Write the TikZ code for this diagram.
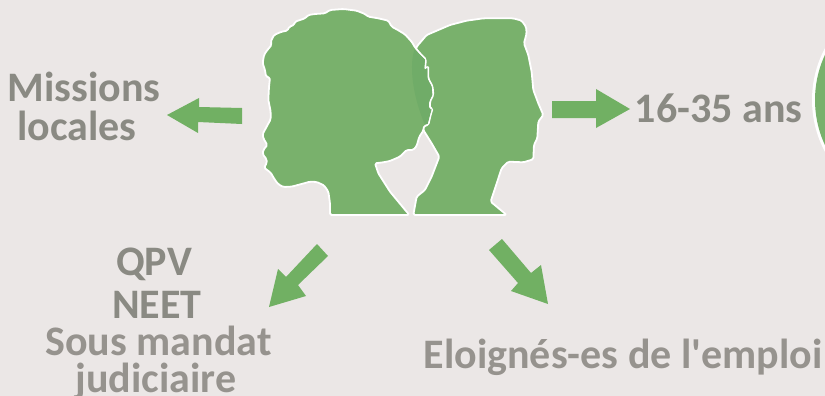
\documentclass[tikz,border=0pt]{standalone}
\usepackage{fontspec}
\setmainfont{Carlito}
\definecolor{bgc}{HTML}{EBE7E6}
\definecolor{headg}{HTML}{79B16C}
\definecolor{overg}{HTML}{70AC68}
\definecolor{arrowg}{HTML}{71B063}
\definecolor{txtg}{HTML}{8A8A83}
\definecolor{txtl}{HTML}{96938E}
\tikzset{
  lab/.style={text=txtg,font=\bfseries\fontsize{42}{44}\selectfont,anchor=base,inner sep=0pt},
  labl/.style={lab,text=txtl},
  head/.style={fill=headg,draw=white,line width=1.8pt,line join=round,rounded corners=1.5pt},
  blockarrow/.style={fill=arrowg,draw=none}
}
\begin{document}
\begin{tikzpicture}[x=1pt,y=-1pt]
\useasboundingbox (0,0) rectangle (825,396);
\clip (0,0) rectangle (825,396);
\fill[bgc] (0,0) rectangle (825,396);
\begin{scope}[shift={(250,0)},x=0.3333pt,y=-0.3333pt]
\draw[head] (490,645) -- (500,590) -- (510,582) -- (525,570) -- (545,530) -- (568,470) -- (545,430) -- (520,390) -- (500,330) -- (487,260) -- (485,200) -- (500,140) -- (530,105) -- (600,75) -- (650,62) -- (700,55) -- (790,55) -- (815,62) -- (828,80) -- (830,100) -- (822,130) -- (835,165) -- (845,215) -- (850,270) -- (865,310) -- (880,345) -- (865,365) -- (862,415) -- (852,435) -- (850,478) -- (820,487) -- (775,485) -- (755,505) -- (722,605) -- (770,645) -- cycle;
\draw[head] (240,645) -- (240,610) -- (235,575) -- (222,556) -- (200,546) -- (180,545) -- (155,552) -- (125,560) -- (100,561) -- (85,553) -- (75,540) -- (62,518) -- (42,503) -- (50,490) -- (50,478) -- (38,463) -- (40,450) -- (52,435) -- (40,415) -- (38,402) -- (50,380) -- (62,358) -- (62,335) -- (55,300) -- (57,260) -- (60,233) -- (48,230) -- (45,210) -- (38,190) -- (42,165) -- (52,150) -- (65,135) -- (62,125) -- (72,105) -- (95,95) -- (112,92) -- (118,80) -- (132,75) -- (135,65) -- (165,55) -- (175,45) -- (195,42) -- (225,40) -- (240,30) -- (280,27) -- (320,32) -- (345,42) -- (355,50) -- (385,55) -- (415,62) -- (425,80) -- (440,88) -- (465,103) -- (485,125) -- (495,142) -- (510,160) -- (528,178) -- (525,208) -- (535,198) -- (535,235) -- (548,260) -- (550,285) -- (540,305) -- (540,325) -- (548,325) -- (542,345) -- (535,375) -- (522,378) -- (520,392) -- (508,410) -- (500,438) -- (490,450) -- (470,450) -- (450,470) -- (420,483) -- (400,487) -- (375,490) -- (385,520) -- (420,575) -- (478,645) -- cycle;
\fill[overg] (494,148) .. controls (478,190) and (485,280) .. (524,372) -- (533,372) -- (540,345) -- (545,328) -- (537,328) -- (537,305) -- (547,285) -- (545,260) -- (532,235) -- (532,203) -- (522,212) -- (525,179) -- cycle;
\end{scope}
\fill[white] (922,100) circle (110);
\fill[headg] (922,100) circle (107);
\fill[blockarrow] (242,108) -- (199,107) -- (199,98) -- (167,115) -- (198,133) -- (198,122) -- (242,124) -- cycle;
\fill[blockarrow] (552,101) -- (596,101) -- (596,89) -- (630,109) -- (596,128) -- (596,118) -- (552,118) -- cycle;
\fill[blockarrow] (317,244) -- (328,256) -- (298,285) -- (306,296) -- (269,307) -- (278,269) -- (286,277) -- cycle;
\fill[blockarrow] (502,239) -- (489,250) -- (518,283) -- (511,291) -- (548,304) -- (541,265) -- (531,273) -- cycle;
\node[lab] (m1) at (84,102) {Missions};
\node[lab] (m2) at (77,140) {locales};
\node[lab] (b) at (718.5,122) {16-35 ans};
\node[lab] (c1) at (154,275) {QPV};
\node[lab] (c2) at (157,318) {NEET};
\node[labl] (c3) at (158.5,355) {Sous mandat};
\node[labl] (c4) at (156,392) {judiciaire};
\node[labl] (d) at (623,368) {Eloignés-es de l\textquotesingle emploi};
\end{tikzpicture}
\end{document}
